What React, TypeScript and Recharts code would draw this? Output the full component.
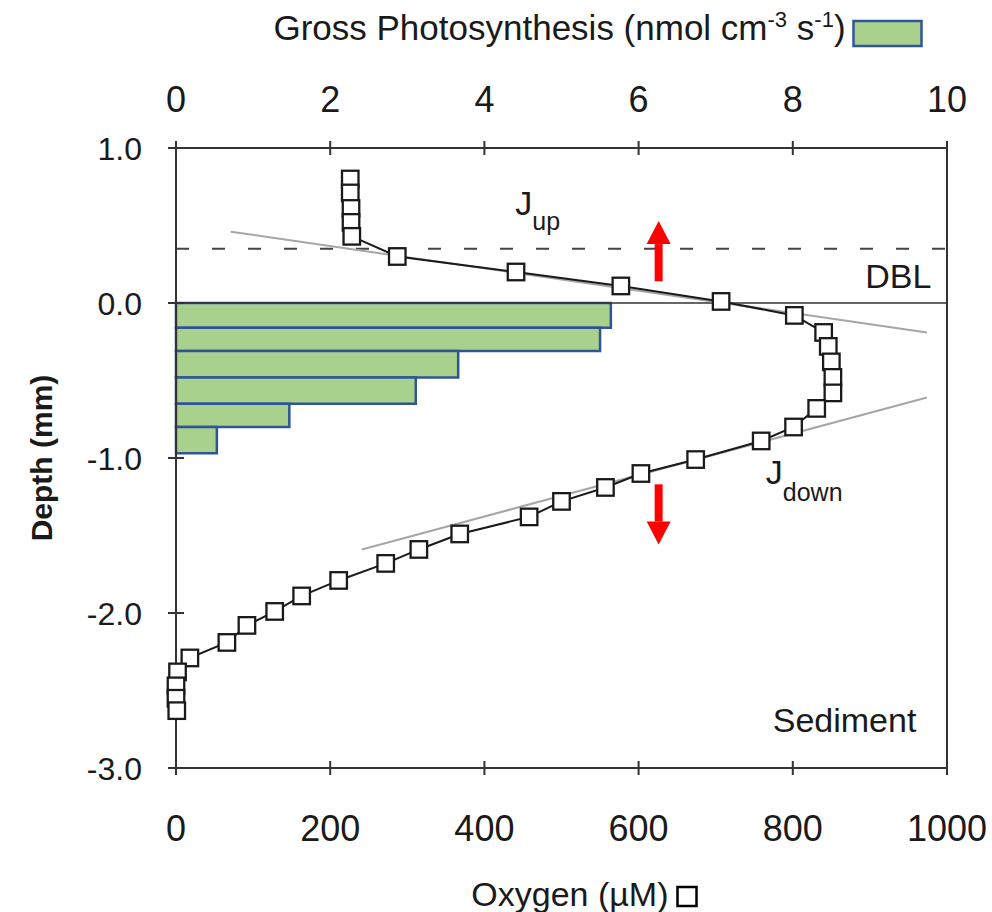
import React from "react";
import {
  ComposedChart,
  Scatter,
  XAxis,
  YAxis,
  ReferenceArea,
  ReferenceLine,
  ReferenceDot,
} from "recharts";

const FONT = '"Liberation Sans", Arial, sans-serif';
const INK = "#1a1a1a";
const AXIS = "#333333";
const FIT = "#a6a6a6";
const GP_FILL = "#a9d18e";
const GP_EDGE = "#2f5597";
const ARROW = "#ff0000";

// Oxygen microprofile (depth in mm, concentration in µM)
const oxygenDepth = [
  0.8, 0.71, 0.61, 0.52, 0.43, 0.3, 0.2, 0.11, 0.01, -0.08, -0.19, -0.28,
  -0.38, -0.48, -0.58, -0.68, -0.8, -0.89, -1.01, -1.1, -1.19, -1.28, -1.38,
  -1.49, -1.59, -1.68, -1.79, -1.89, -1.99, -2.08, -2.19, -2.29, -2.38, -2.47,
  -2.55, -2.63,
];
const oxygenConc = [
  226, 226, 227, 227, 228, 287, 441, 577, 707, 802, 840, 846, 850, 852, 852,
  831, 801, 759, 674, 603, 557, 500, 458, 368, 315, 272, 211, 163, 128, 92, 66,
  18, 2, 0, 0, 1,
];

// Gross photosynthesis per depth layer (nmol cm-3 s-1)
const gpLayerTop = [0, -0.16, -0.31, -0.48, -0.65, -0.8];
const gpLayerBottom = [-0.16, -0.31, -0.48, -0.65, -0.8, -0.97];
const gpRate = [5.64, 5.5, 3.66, 3.11, 1.47, 0.53];

const oxygenTicks = [0, 200, 400, 600, 800, 1000];
const gpTicks = [0, 2, 4, 6, 8, 10];
const depthTicks = [1, 0, -1, -2, -3];

// linear fits used for the upward / downward fluxes
const jUpFit = [
  { x: 71, y: 0.46 },
  { x: 974, y: -0.19 },
];
const jDownFit = [
  { x: 241, y: -1.59 },
  { x: 974, y: -0.61 },
];
const dblDepth = 0.35;

// flux arrows: x position, tail depth, head depth
const arrowX = 626;
const arrowTail = [0.14, -1.17];
const arrowHead = [0.38, -1.41];

const profile = oxygenConc.map((o2, i) => ({ o2, depth: oxygenDepth[i] }));
const gpLayers = gpRate.map((rate, i) => ({
  rate,
  top: gpLayerTop[i],
  bottom: gpLayerBottom[i],
}));

const textStyle = { fontFamily: FONT, fill: INK };

const Square = (props: any) => {
  const { cx, cy } = props;
  const s = 16.5;
  return (
    <rect
      x={cx - s / 2}
      y={cy - s / 2}
      width={s}
      height={s}
      fill="#fff"
      stroke={INK}
      strokeWidth={2.3}
    />
  );
};

const LeftTick = (props: any) => {
  const { x, y, payload } = props;
  return (
    <g>
      <line x1={x - 8} x2={x + 8} y1={y} y2={y} stroke={AXIS} strokeWidth={2} />
      <text x={x - 34} y={y} dy="0.36em" textAnchor="end" fontSize={32} style={textStyle}>
        {Number(payload.value).toFixed(1)}
      </text>
    </g>
  );
};

const BottomTick = (props: any) => {
  const { x, y, payload } = props;
  return (
    <g>
      <line x1={x} x2={x} y1={y - 7} y2={y + 7} stroke={AXIS} strokeWidth={2} />
      <text x={x} y={y + 73} textAnchor="middle" fontSize={36} style={textStyle}>
        {payload.value}
      </text>
    </g>
  );
};

const TopTick = (props: any) => {
  const { x, y, payload } = props;
  return (
    <g>
      <line x1={x} x2={x} y1={y - 7} y2={y + 7} stroke={AXIS} strokeWidth={2} />
      <text x={x} y={y - 36} textAnchor="middle" fontSize={36} style={textStyle}>
        {payload.value}
      </text>
    </g>
  );
};

const TopTitle = (props: any) => {
  const { x, y, width } = props.viewBox;
  const cx = x + width / 2;
  return (
    <g>
      <text x={cx - 2} y={y - 48} textAnchor="middle" fontSize={35} style={textStyle}>
        Gross Photosynthesis (nmol cm
        <tspan dy={-13} fontSize={22}>-3</tspan>
        <tspan dy={13}> s</tspan>
        <tspan dy={-13} fontSize={22}>-1</tspan>
        <tspan dy={13}>)</tspan>
      </text>
      <rect
        x={cx + 292}
        y={y - 67}
        width={68}
        height={25}
        fill={GP_FILL}
        stroke={GP_EDGE}
        strokeWidth={2.5}
      />
    </g>
  );
};

const BottomTitle = (props: any) => {
  const { x, y, width } = props.viewBox;
  const end = x + width / 2 + 107;
  return (
    <g>
      <text x={end} y={y + 138} textAnchor="end" fontSize={34} style={textStyle}>
        Oxygen (µM)
      </text>
      <rect x={end + 9} y={y + 119} width={19} height={19} fill="#fff" stroke="#000" strokeWidth={2.5} />
    </g>
  );
};

const DepthTitle = (props: any) => {
  const { x, y, height } = props.viewBox;
  const tx = x - 24;
  const ty = y + height / 2;
  return (
    <text
      x={tx}
      y={ty}
      transform={`rotate(-90 ${tx} ${ty})`}
      textAnchor="middle"
      fontSize={30}
      fontWeight="bold"
      style={textStyle}
    >
      Depth (mm)
    </text>
  );
};

const Flux = (sub: string, dy: number) => (props: any) => {
  const { cx, cy } = props;
  return (
    <text x={cx} y={cy} fontSize={34} style={textStyle}>
      J
      <tspan dy={dy} fontSize={25}>
        {sub}
      </tspan>
    </text>
  );
};

const Note = (label: string) => (props: any) => {
  const { cx, cy } = props;
  return (
    <text x={cx} y={cy} fontSize={34} style={textStyle}>
      {label}
    </text>
  );
};

const ArrowHead = (up: boolean) => (props: any) => {
  const { cx, cy } = props;
  const h = 23;
  const w = 12;
  const tip = up ? cy - h : cy + h;
  return <polygon points={`${cx - w},${cy} ${cx + w},${cy} ${cx},${tip}`} fill={ARROW} />;
};

export default function App() {
  return (
    <div style={{ position: "absolute", left: 0, top: 0, background: "#fff" }}>
      <ComposedChart
        width={992}
        height={912}
        data={gpLayers}
        margin={{ top: 88, right: 45, bottom: 84, left: 76 }}
      >
        <XAxis
          xAxisId="o2"
          dataKey="o2"
          type="number"
          orientation="bottom"
          domain={[0, 1000]}
          ticks={oxygenTicks}
          height={60}
          tickSize={0}
          tickMargin={0}
          tickLine={false}
          tick={<BottomTick />}
          axisLine={{ stroke: AXIS, strokeWidth: 2 }}
          label={{ content: (p: any) => <BottomTitle {...p} /> }}
        />
        <XAxis
          xAxisId="gp"
          dataKey="rate"
          type="number"
          orientation="top"
          domain={[0, 10]}
          ticks={gpTicks}
          height={60}
          tickSize={0}
          tickMargin={0}
          tickLine={false}
          tick={<TopTick />}
          axisLine={{ stroke: AXIS, strokeWidth: 2 }}
          label={{ content: (p: any) => <TopTitle {...p} /> }}
        />
        <YAxis
          yAxisId="depth"
          dataKey="depth"
          type="number"
          domain={[-3, 1]}
          ticks={depthTicks}
          width={100}
          tickSize={0}
          tickMargin={0}
          tickLine={false}
          tick={<LeftTick />}
          axisLine={{ stroke: AXIS, strokeWidth: 2 }}
          label={{ content: (p: any) => <DepthTitle {...p} /> }}
        />

        {gpLayers.map((layer, i) => (
          <ReferenceArea
            key={`gp-${i}`}
            xAxisId="gp"
            yAxisId="depth"
            x1={0}
            x2={layer.rate}
            y1={layer.bottom}
            y2={layer.top}
            fill={GP_FILL}
            fillOpacity={1}
            stroke={GP_EDGE}
            strokeWidth={2.5}
          />
        ))}

        <ReferenceLine xAxisId="o2" yAxisId="depth" x={1000} stroke={AXIS} strokeWidth={2} />
        <ReferenceLine xAxisId="o2" yAxisId="depth" y={0} stroke={AXIS} strokeWidth={1.5} />
        <ReferenceLine
          xAxisId="o2"
          yAxisId="depth"
          y={dblDepth}
          stroke="#444"
          strokeWidth={2}
          strokeDasharray="13 23"
        />
        <ReferenceLine xAxisId="o2" yAxisId="depth" segment={jUpFit} stroke={FIT} strokeWidth={2} />
        <ReferenceLine xAxisId="o2" yAxisId="depth" segment={jDownFit} stroke={FIT} strokeWidth={2} />

        <Scatter
          xAxisId="o2"
          yAxisId="depth"
          data={profile}
          line={{ stroke: INK, strokeWidth: 2 }}
          shape={Square}
          isAnimationActive={false}
        />

        {arrowTail.map((tail, i) => (
          <ReferenceLine
            key={`shaft-${i}`}
            xAxisId="o2"
            yAxisId="depth"
            segment={[
              { x: arrowX, y: tail },
              { x: arrowX, y: arrowHead[i] },
            ]}
            stroke={ARROW}
            strokeWidth={8}
          />
        ))}
        {arrowHead.map((head, i) => (
          <ReferenceDot
            key={`head-${i}`}
            xAxisId="o2"
            yAxisId="depth"
            x={arrowX}
            y={head}
            r={0}
            shape={ArrowHead(head > arrowTail[i])}
          />
        ))}

        <ReferenceDot xAxisId="o2" yAxisId="depth" x={440} y={0.57} r={0} shape={Flux("up", 15)} />
        <ReferenceDot xAxisId="o2" yAxisId="depth" x={765} y={-1.17} r={0} shape={Flux("down", 17)} />
        <ReferenceDot xAxisId="o2" yAxisId="depth" x={894} y={0.1} r={0} shape={Note("DBL")} />
        <ReferenceDot xAxisId="o2" yAxisId="depth" x={774} y={-2.77} r={0} shape={Note("Sediment")} />
      </ComposedChart>
    </div>
  );
}
